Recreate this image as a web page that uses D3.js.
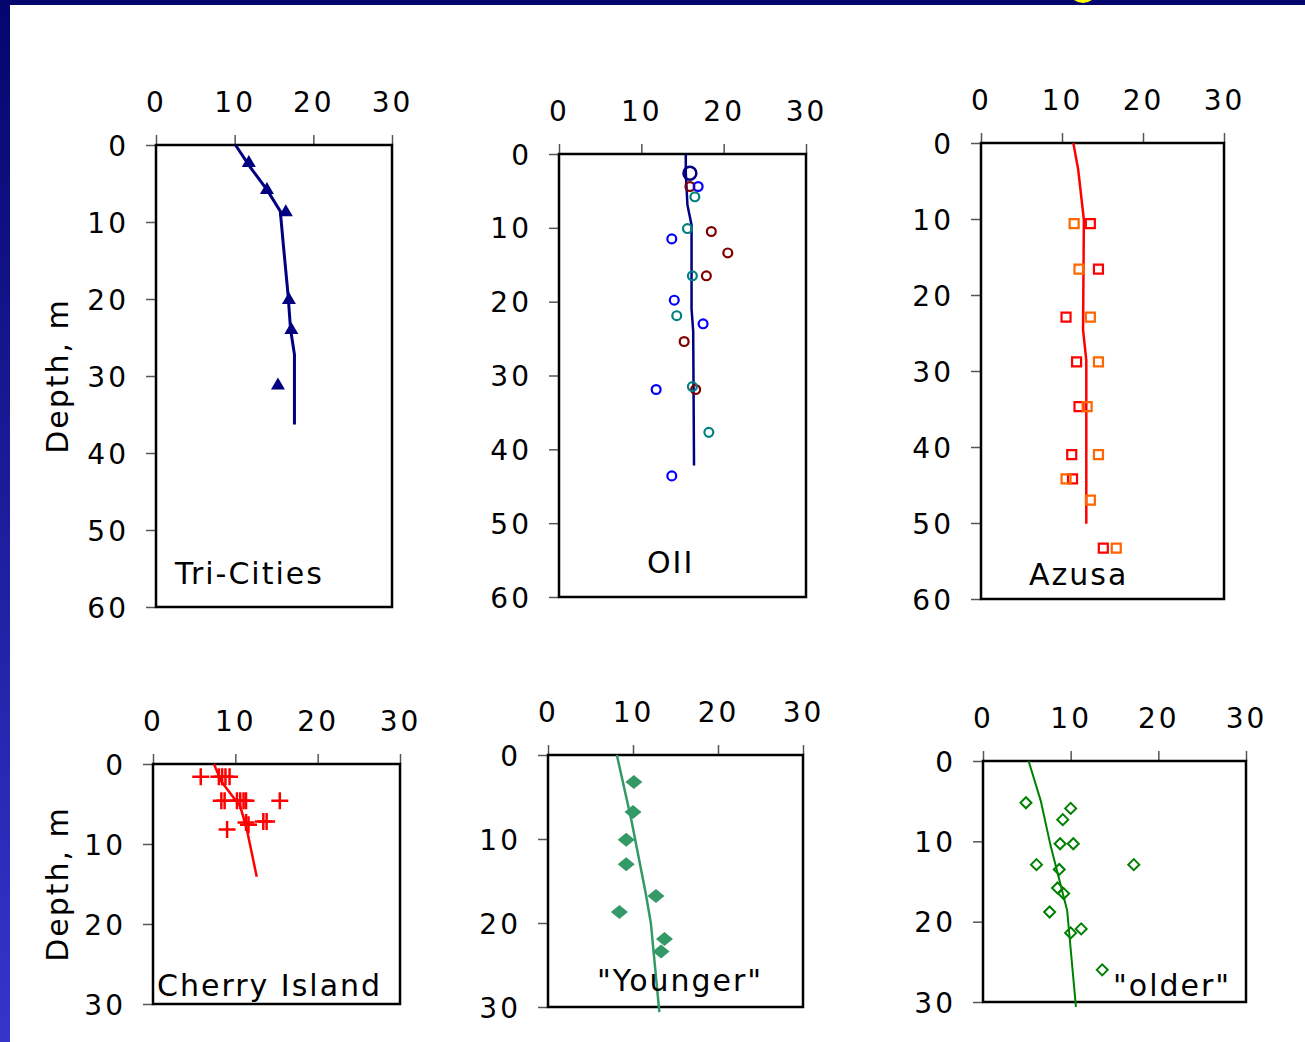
<!DOCTYPE html>
<html>
<head>
<meta charset="utf-8">
<script src="https://cdn.jsdelivr.net/npm/d3@7"></script>
<style>
  html, body { margin: 0; padding: 0; background: #fff; }
  svg { display: block; }
</style>
</head>
<body>
<svg id="chart" width="1305" height="1042"></svg>
<script>
// ---- data (temperature vs depth) ----
let tempTicks = [0, 10, 20, 30];
let deepTicks = [0, 10, 20, 30, 40, 50, 60];
let shallowTicks = [0, 10, 20, 30];

// Tri-Cities
let triCitiesPts  = [[11.8, 2.2], [14.1, 5.7], [16.5, 8.6], [16.9, 20.0], [17.2, 23.9], [15.5, 31.1]];
let triCitiesLine = [[10.1, 0], [12.0, 2.9], [14.1, 5.8], [15.8, 8.6], [16.2, 13.1], [16.8, 19.6], [17.1, 23.9], [17.6, 27.2], [17.6, 36.3]];

// OII
let oiiBig     = [[15.9, 2.6]];
let oiiDarkRed = [[15.9, 4.4], [18.5, 10.5], [20.5, 13.4], [17.9, 16.5], [15.2, 25.4], [16.6, 31.9]];
let oiiBlue    = [[16.9, 4.4], [13.7, 11.5], [14.0, 19.8], [17.5, 23.0], [11.8, 31.9], [13.7, 43.6]];
let oiiTeal    = [[16.5, 5.8], [15.6, 10.1], [16.2, 16.5], [14.3, 21.9], [16.2, 31.5], [18.2, 37.7]];
let oiiLine    = [[15.4, 0], [15.4, 2.6], [15.6, 6.9], [16.1, 9.6], [16.1, 16.5], [16.1, 21.0], [16.3, 24.0], [16.4, 42.2]];

// Azusa
let azusaOrange = [[11.5, 10.6], [12.1, 16.6], [13.5, 22.9], [14.5, 28.8], [13.1, 34.7], [14.5, 41.0], [10.5, 44.2], [13.5, 47.0], [16.7, 53.3]];
let azusaRed    = [[13.5, 10.6], [14.5, 16.6], [10.5, 22.9], [11.8, 28.8], [12.1, 34.7], [11.2, 41.0], [11.3, 44.2], [15.1, 53.3]];
let azusaLine   = [[11.4, 0], [12.0, 3.5], [12.7, 10.1], [12.6, 24.6], [13.0, 28.6], [13.0, 50.1]];

// Cherry Island
let cherryPts  = [[5.8, 1.6], [8.0, 1.6], [8.4, 1.6], [8.8, 1.6], [9.3, 1.6],
                  [8.3, 4.6], [8.7, 4.6], [10.2, 4.6], [10.6, 4.6], [11.0, 4.6], [11.3, 4.6], [15.4, 4.6],
                  [11.3, 7.3], [11.6, 7.6], [13.4, 7.2], [13.8, 7.2], [9.0, 8.2]];
let cherryLine = [[7.4, 0], [8.3, 2.2], [10.6, 5.3], [11.4, 8.2], [12.6, 14.1]];

// "Younger"
let youngerPts  = [[10.1, 3.2], [10.0, 6.8], [9.2, 10.1], [9.2, 13.0], [12.7, 16.8], [8.4, 18.7], [13.7, 21.9], [13.3, 23.4]];
let youngerLine = [[8.1, 0], [9.8, 7.7], [11.5, 16.5], [12.1, 20.0], [13.1, 30.6]];

// "older"
let olderPts  = [[4.9, 5.2], [10.0, 5.9], [9.1, 7.3], [8.8, 10.3], [10.3, 10.3], [6.1, 12.9], [17.2, 12.9],
                 [8.7, 13.5], [8.5, 15.8], [9.2, 16.5], [7.6, 18.8], [11.2, 20.9], [10.0, 21.4], [13.6, 26.0]];
let olderLine = [[5.2, 0], [6.6, 5.0], [7.7, 10.5], [9.6, 18.6], [10.6, 30.6]];

// ---- layout ----
const FONT = "'DejaVu Sans', Verdana, sans-serif";

let marker = {
    triangle: "M0,-7L7,5L-7,5Z",
    circle: d3.symbol(d3.symbolCircle, 62)(),
    bigCircle: d3.symbol(d3.symbolCircle, 130)(),
    square: "M-4.5,-4.5H4.5V4.5H-4.5Z",
    plus: "M-8.5,0H8.5M0,-8.5V8.5",
    wideDiamond: "M-8.5,0L0,-7L8.5,0L0,7Z",
    diamond: "M-5.5,0L0,-5.5L5.5,0L0,5.5Z"
};

let panels = [
    {box: [156, 392, 145, 607], depth: deepTicks, label: "Tri-Cities", lx: 175, ly: 584, depthLabel: true,
     lines: [{d: triCitiesLine, color: "#000080", w: 3}],
     series: [{d: triCitiesPts, shape: "triangle", fill: "#000080"}]},
    {box: [559, 806, 154, 597], depth: deepTicks, label: "OII", lx: 647, ly: 573,
     lines: [{d: oiiLine, color: "#000080", w: 2.5}],
     series: [{d: oiiDarkRed, shape: "circle", stroke: "#800000"},
              {d: oiiBlue, shape: "circle", stroke: "#0000ff"},
              {d: oiiTeal, shape: "circle", stroke: "#008080"},
              {d: oiiBig, shape: "bigCircle", stroke: "#000080", sw: 2.5}]},
    {box: [981, 1224, 143, 599], depth: deepTicks, label: "Azusa", lx: 1029, ly: 585,
     lines: [{d: azusaLine, color: "#ff0000", w: 2.5}],
     series: [{d: azusaRed, shape: "square", stroke: "#ff0000"},
              {d: azusaOrange, shape: "square", stroke: "#ff6600"}]},
    {box: [153, 400, 764, 1004], depth: shallowTicks, label: "Cherry Island", lx: 157, ly: 996, depthLabel: true,
     lines: [{d: cherryLine, color: "#ff0000", w: 2.5}],
     series: [{d: cherryPts, shape: "plus", stroke: "#ff0000", sw: 2.5}]},
    {box: [548, 803, 755, 1007], depth: shallowTicks, label: "\"Younger\"", lx: 597, ly: 991,
     lines: [{d: youngerLine, color: "#339966", w: 2.5}],
     series: [{d: youngerPts, shape: "wideDiamond", fill: "#339966"}]},
    {box: [983, 1246, 761, 1002], depth: shallowTicks, label: "\"older\"", lx: 1113, ly: 996,
     lines: [{d: olderLine, color: "#008000", w: 2}],
     series: [{d: olderPts, shape: "diamond", stroke: "#008000", sw: 2}]}
];

let svg = d3.select("#chart");

// slide background: white with navy top bar and a blue gradient strip on the left
let defs = svg.append("defs");
let grad = defs.append("linearGradient").attr("id", "leftBar")
    .attr("x1", 0).attr("y1", 0).attr("x2", 0).attr("y2", 1);
grad.append("stop").attr("offset", "0%").attr("stop-color", "#05056e");
grad.append("stop").attr("offset", "100%").attr("stop-color", "#3535cc");

svg.append("rect").attr("width", 1305).attr("height", 1042).attr("fill", "#fff");
svg.append("rect").attr("x", 0).attr("y", 0).attr("width", 10).attr("height", 1042).attr("fill", "url(#leftBar)");
svg.append("rect").attr("x", 0).attr("y", 0).attr("width", 1305).attr("height", 5).attr("fill", "#05056e");
// bottom sliver of the slide title (clipped by the frame)
svg.append("path")
    .attr("d", "M1074,0Q1083,6 1092,0Z")
    .attr("fill", "#ffff00");

panels.forEach(p => {
    let [x0, x1, y0, y1] = p.box;

    let xScale = d3.scaleLinear().domain([0, 30]).range([x0, x1]);
    let yScale = d3.scaleLinear().domain([0, d3.max(p.depth)]).range([y0, y1]);

    let g = svg.append("g");

    //Add the x Axis (on top)
    let xAxis = g.append("g")
        .attr("transform", "translate(0," + y0 + ")")
        .call(d3.axisTop(xScale).tickValues(tempTicks).tickSize(10).tickPadding(23));

    //Add the y Axis
    let yAxis = g.append("g")
        .attr("transform", "translate(" + x0 + ",0)")
        .call(d3.axisLeft(yScale).tickValues(p.depth).tickSize(10).tickPadding(17));

    [xAxis, yAxis].forEach(a => {
        a.select(".domain").remove();
        a.selectAll(".tick line").attr("stroke", "#555").attr("stroke-width", 1.5);
        a.selectAll(".tick text")
            .attr("fill", "#000")
            .style("font-family", FONT)
            .style("font-size", "28px")
            .style("letter-spacing", "3px");
    });
    yAxis.selectAll(".tick text").attr("dy", "0.36em");

    //Plot frame
    g.append("rect")
        .attr("x", x0).attr("y", y0)
        .attr("width", x1 - x0).attr("height", y1 - y0)
        .attr("fill", "none").attr("stroke", "#000").attr("stroke-width", 2.5);

    //Fitted profile lines
    let line = d3.line()
        .x(d => xScale(d[0]))
        .y(d => yScale(d[1]));

    p.lines.forEach(l => {
        g.append("path")
            .attr("d", line(l.d))
            .attr("fill", "none")
            .attr("stroke", l.color)
            .attr("stroke-width", l.w)
            .attr("stroke-linejoin", "round");
    });

    //Measured points
    p.series.forEach(s => {
        g.append("g").selectAll("path")
            .data(s.d)
            .enter().append("path")
            .attr("transform", d => "translate(" + xScale(d[0]) + "," + yScale(d[1]) + ")")
            .attr("d", marker[s.shape])
            .attr("fill", s.fill || "none")
            .attr("stroke", s.stroke || "none")
            .attr("stroke-width", s.sw || 2.2);
    });

    //Site label
    g.append("text")
        .attr("x", p.lx).attr("y", p.ly)
        .attr("font-family", FONT).attr("font-size", 30)
        .attr("letter-spacing", "2px")
        .attr("fill", "#000")
        .text(p.label);

    if (p.depthLabel) {
        g.append("text")
            .attr("transform", "translate(68," + (y0 + y1) / 2 + ") rotate(-90)")
            .attr("text-anchor", "middle")
            .attr("font-family", FONT).attr("font-size", 30)
            .attr("letter-spacing", "2px")
            .attr("fill", "#000")
            .text("Depth, m");
    }
});
</script>
</body>
</html>
